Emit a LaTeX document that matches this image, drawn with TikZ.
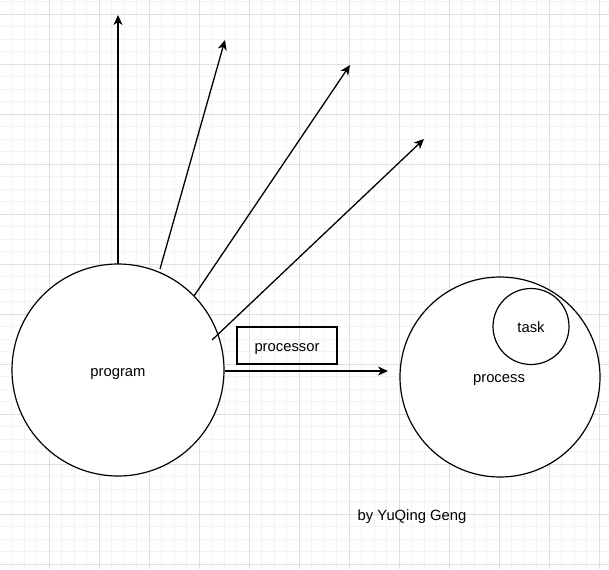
\documentclass[tikz,border=0pt]{standalone}
\usepackage{fontspec}
\setmainfont{Liberation Sans}
\usetikzlibrary{arrows.meta}
\begin{document}
\begin{tikzpicture}[x=1pt,y=-1pt,
  lbl/.style={font=\fontsize{14.8}{17}\selectfont, inner sep=0pt, text height=10.6pt, text depth=3.2pt},
  circ/.style={circle, draw=black, line width=1.2pt, fill=white, inner sep=0pt},
  arr/.style={draw=black, line width=1.3pt, -{Stealth[length=10pt,width=9pt,inset=3pt]}},
  minorgrid/.style={draw=gray!9, line width=0.8pt},
  majorgrid/.style={draw=gray!25, line width=0.8pt}]
\useasboundingbox (0,0) rectangle (609,569);
\fill[white] (0,0) rectangle (609,569);
% grid
\foreach \i in {0,...,49} {
  \draw[minorgrid] ({-1+12.5*\i},0) -- ({-1+12.5*\i},569);
  \draw[minorgrid] (0,{1.5+12.5*\i}) -- (609,{1.5+12.5*\i});
}
\foreach \i in {0,...,12} {
  \draw[majorgrid] ({-1+50*\i},0) -- ({-1+50*\i},569);
  \draw[majorgrid] (0,{14+50*\i}) -- (609,{14+50*\i});
}
% program
\node[circ, minimum size=212pt] (prog) at (118,370) {};
\node[lbl] (progtxt) at (118,373) {program};
% process
\node[circ, minimum size=200pt] (proc) at (500,377) {};
\node[circ, minimum size=76pt] (task) at (531,326.5) {};
\node[lbl] (tasktxt) at (531,329) {task};
\node[lbl] (proctxt) at (499,379) {process};
% processor box
\node[draw=black, line width=1.2pt, minimum width=100pt, minimum height=37pt, inner sep=0pt] (cpu) at (287,345.5) {};
\node[lbl] (cputxt) at (287,348) {processor};
% author
\node[lbl] (author) at (412,517) {by YuQing Geng};
% arrow coordinates
\coordinate (s1) at (118,264);
\coordinate (e1) at (118,15);
\coordinate (s2) at (160,269);
\coordinate (e2) at (225,40);
\coordinate (s3) at (194,296);
\coordinate (e3) at (350,65);
\coordinate (s4) at (212,340);
\coordinate (e4) at (424,139);
\coordinate (e5) at (388,371);
\draw[arr] (s1) -- (e1);
\draw[arr] (s2) -- (e2);
\draw[arr] (s3) -- (e3);
\draw[arr] (s4) -- (e4);
\draw[arr] (prog.east |- 0,371) -- (e5);
\end{tikzpicture}
\end{document}
